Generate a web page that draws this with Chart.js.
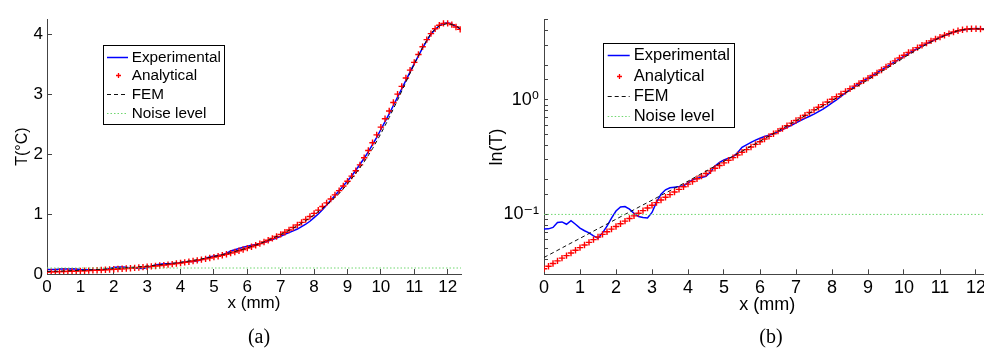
<html>
<head>
	<title>T profile</title>
	<style>
		html, body {
			margin: 0;
			padding: 0;
			width: 984px;
			height: 349px;
			overflow: hidden;
			background: #fff;
		}
		.panel { position: absolute; top: 0; }
		.cap {
			position: absolute;
			top: 323px;
			width: 100px;
			text-align: center;
			font: 20px "Liberation Serif", "Times New Roman", serif;
			line-height: 26px;
			color: #000;
		}
	</style>
</head>
<body>
	<div class="panel" style="left:0px"><canvas id="chartA" width="490" height="349"></canvas></div>
	<div class="panel" style="left:480px"><canvas id="chartB" width="530" height="349"></canvas></div>
	<div class="cap" style="left:209px">(a)</div>
	<div class="cap" style="left:721px">(b)</div>

	<script src="https://cdn.jsdelivr.net/npm/chart.js@4.4.1/dist/chart.umd.min.js"></script>
	<script>
		// position along the sample (mm)
		var xs = [0,0.125,0.25,0.375,0.5,0.625,0.75,0.875,1,1.125,1.25,1.375,1.5,1.625,1.75,1.875,
			2,2.125,2.25,2.375,2.5,2.625,2.75,2.875,3,3.125,3.25,3.375,3.5,3.625,3.75,3.875,
			4,4.125,4.25,4.375,4.5,4.625,4.75,4.875,5,5.125,5.25,5.375,5.5,5.625,5.75,5.875,
			6,6.125,6.25,6.375,6.5,6.625,6.75,6.875,7,7.125,7.25,7.375,7.5,7.625,7.75,7.875,
			8,8.125,8.25,8.375,8.5,8.625,8.75,8.875,9,9.125,9.25,9.375,9.5,9.625,9.75,9.875,
			10,10.125,10.25,10.375,10.5,10.625,10.75,10.875,11,11.125,11.25,11.375,11.5,11.625,11.75,11.875,
			12,12.125,12.25,12.375];

		var experimental = [0.0745,0.0748,0.077,0.085,0.086,0.082,0.088,0.082,
			0.076,0.072,0.069,0.065,0.062,0.069,0.079,0.093,
			0.107,0.116,0.117,0.111,0.102,0.096,0.094,0.093,
			0.104,0.128,0.150,0.164,0.171,0.173,0.175,0.178,
			0.188,0.201,0.207,0.210,0.215,0.235,0.265,0.285,
			0.299,0.310,0.318,0.345,0.385,0.405,0.425,0.445,
			0.462,0.478,0.492,0.505,0.525,0.550,0.575,0.600,
			0.630,0.660,0.690,0.720,0.750,0.790,0.830,0.880,
			0.940,1.000,1.070,1.150,1.230,1.310,1.390,1.470,
			1.550,1.635,1.730,1.830,1.930,2.040,2.160,2.280,
			2.410,2.540,2.670,2.810,2.950,3.090,3.230,3.370,
			3.510,3.640,3.770,3.890,4.000,4.080,4.140,4.180,
			4.190,4.170,4.130,4.090];

		var analytical = [0.0335,0.0353,0.0373,0.0393,0.0415,0.0437,0.0461,0.0486,
			0.0513,0.0541,0.0570,0.0602,0.0635,0.0669,0.0706,0.0744,
			0.0785,0.0828,0.0873,0.0921,0.0971,0.1024,0.1080,0.1139,
			0.1202,0.1267,0.1337,0.1410,0.1487,0.1568,0.1654,0.1744,
			0.1839,0.1940,0.2046,0.2158,0.2276,0.2400,0.2531,0.2670,
			0.2816,0.2970,0.3132,0.3303,0.3484,0.3674,0.3875,0.4087,
			0.4310,0.4551,0.4800,0.5062,0.5339,0.5631,0.5938,0.6263,
			0.6605,0.6966,0.7347,0.7748,0.8172,0.8618,0.9089,0.9586,
			1.011,1.066,1.125,1.186,1.251,1.319,1.391,1.467,
			1.548,1.632,1.722,1.820,1.94,2.06,2.19,2.32,
			2.45,2.59,2.72,2.86,3.00,3.13,3.27,3.40,
			3.53,3.66,3.79,3.91,4.01,4.09,4.15,4.18,
			4.18,4.16,4.12,4.08];

		var femX = [0,0.25,0.5,0.75,1,1.25,1.5,1.75,2,2.25,
			2.5,2.75,3,3.25,3.5,3.75,4,4.25,4.5,4.75,
			5,5.25,5.5,5.75,6,6.25,6.5,6.75,7,7.25,
			7.5,7.75,8,8.25,8.5,8.75,9,9.25,9.5,9.75,
			10,10.25,10.5,10.75,11,11.25,11.5,11.75,12,12.25,12.4];
		var fem = [0.0421,0.0463,0.0510,0.0562,0.0618,0.0681,0.0750,0.0824,0.0908,0.1000,
			0.1099,0.1211,0.1330,0.1466,0.1611,0.1774,0.1950,0.2158,0.2388,0.2642,
			0.2917,0.3221,0.3556,0.3936,0.4345,0.4819,0.5346,0.5929,0.6577,0.7278,
			0.8054,0.8913,0.9863,1.094,1.211,1.343,1.500,1.680,1.870,2.090,
			2.340,2.610,2.900,3.200,3.500,3.780,4.018,4.140,4.178,4.140,4.08];

		var noiseX = [0, 12.4];
		var noise = [0.1, 0.1];

		var xTicks = [0,1,2,3,4,5,6,7,8,9,10,11,12];
		var seriesNames = ['Experimental', 'Analytical', 'FEM', 'Noise level'];

		var FONT = '"Liberation Sans", Arial, "DejaVu Sans", sans-serif';

		function pts(xv, yv) {
			return xv.map(function (x, i) { return {x: x, y: yv[i]}; });
		}

		function makeDatasets() {
			return [{
				label: seriesNames[0], data: pts(xs, experimental),
				borderColor: '#0000ff', borderWidth: 1.5, pointRadius: 0, order: 3
			}, {
				label: seriesNames[1], data: pts(xs, analytical), showLine: false,
				pointStyle: 'cross', pointRadius: 3.2, pointBorderWidth: 1.4,
				pointBorderColor: '#ff0000', borderColor: '#ff0000', order: 2
			}, {
				label: seriesNames[2], data: pts(femX, fem),
				borderColor: '#111', borderWidth: 1, borderDash: [4, 3], pointRadius: 0, order: 1
			}, {
				label: seriesNames[3], data: pts(noiseX, noise),
				borderColor: 'rgb(110,215,110)', borderWidth: 1, borderDash: [1.5, 2], pointRadius: 0, order: 0
			}];
		}

		// boxed legend inside the plot, like the matlab one
		var boxLegend = {
			id: 'boxLegend',
			afterDatasetsDraw: function (chart, args, o) {
				var ctx = chart.ctx;
				ctx.save();
				ctx.fillStyle = '#fff';
				ctx.fillRect(o.x, o.y, o.w, o.h);
				ctx.strokeStyle = '#000';
				ctx.lineWidth = 1;
				ctx.strokeRect(o.x + 0.5, o.y + 0.5, o.w, o.h);
				ctx.font = o.size + 'px ' + FONT;
				ctx.textBaseline = 'middle';
				chart.data.datasets.forEach(function (ds, i) {
					var y = Math.round(o.y + o.first + i * o.row) + 0.5;
					var x0 = o.x + o.pad, x1 = x0 + o.sample;
					ctx.save();
					if (ds.showLine === false) {
						var cx = Math.round((x0 + x1) / 2) + 0.5, r = 2.5;
						ctx.strokeStyle = ds.pointBorderColor;
						ctx.lineWidth = 1.3;
						ctx.beginPath();
						ctx.moveTo(cx - r, y); ctx.lineTo(cx + r, y);
						ctx.moveTo(cx, y - r); ctx.lineTo(cx, y + r);
						ctx.stroke();
					} else {
						ctx.strokeStyle = ds.borderColor;
						ctx.lineWidth = ds.borderWidth;
						ctx.setLineDash(ds.borderDash || []);
						ctx.beginPath();
						ctx.moveTo(x0, y); ctx.lineTo(x1, y);
						ctx.stroke();
					}
					ctx.restore();
					ctx.fillStyle = '#000';
					ctx.fillText(ds.label, x1 + o.gap, y);
				});
				ctx.restore();
			}
		};

		function xScale(size, axisH, titlePad) {
			return {
				type: 'linear', min: 0, max: 12.4,
				afterFit: function (s) { s.height = axisH; },
				afterBuildTicks: function (s) { s.ticks = xTicks.map(function (v) { return {value: v}; }); },
				border: {display: true, color: '#444', width: 1},
				grid: {display: true, drawOnChartArea: false, drawTicks: true, tickLength: -5, color: '#444'},
				ticks: {color: '#000', font: {family: FONT, size: size}, padding: 8, maxRotation: 0, autoSkip: false},
				title: {display: true, text: 'x (mm)', color: '#000', font: {family: FONT, size: size}, padding: {top: 0, bottom: titlePad}}
			};
		}

		var chartA = new Chart(document.getElementById('chartA').getContext('2d'), {
			type: 'line',
			data: {datasets: makeDatasets()},
			options: {
				responsive: false, animation: false,
				layout: {padding: {top: 14, right: 29, left: 0, bottom: 0}},
				plugins: {
					legend: {display: false}, tooltip: {enabled: false},
					boxLegend: {x: 103, y: 45, w: 121, h: 79, first: 11.7, row: 18.7, pad: 4, sample: 21, gap: 3.7, size: 15.3}
				},
				scales: {
					x: xScale(17, 75, 35),
					y: {
						type: 'linear', min: 0, max: 4.25,
						afterFit: function (s) { s.width = 47; },
						border: {display: true, color: '#444', width: 1},
						grid: {display: true, drawOnChartArea: false, drawTicks: true, tickLength: -5, color: '#444'},
						ticks: {stepSize: 1, includeBounds: false, color: '#000', font: {family: FONT, size: 17}, padding: 9},
						title: {display: true, text: 'T(°C)', color: '#000', font: {family: FONT, size: 16}, padding: {top: 13, bottom: 0}}
					}
				}
			},
			plugins: [boxLegend]
		});

		var chartB = new Chart(document.getElementById('chartB').getContext('2d'), {
			type: 'line',
			data: {datasets: makeDatasets()},
			options: {
				responsive: false, animation: false,
				layout: {padding: {top: 14, right: 19.6, left: 0, bottom: 0}},
				plugins: {
					legend: {display: false}, tooltip: {enabled: false},
					boxLegend: {x: 123, y: 43, w: 131, h: 84, first: 12.3, row: 20.3, pad: 4.7, sample: 22, gap: 4, size: 16.5}
				},
				scales: {
					x: xScale(18, 74.7, 33),
					y: {
						type: 'logarithmic', min: 0.03, max: 5,
						afterFit: function (s) { s.width = 64; },
						border: {display: true, color: '#444', width: 1},
						grid: {display: true, drawOnChartArea: false, drawTicks: true, tickLength: -4, color: '#444'},
						ticks: {
							color: '#000', font: {family: FONT, size: 18}, padding: 9, autoSkip: false,
							callback: function (v) {
								if (Math.abs(v - 1) < 1e-9) return '10\u2070';
								if (Math.abs(v - 0.1) < 1e-9) return '10\u207B\u00B9';
								return '';
							}
						},
						title: {display: true, text: 'ln(T)', color: '#000', font: {family: FONT, size: 18}, padding: {top: 6, bottom: 0}}
					}
				}
			},
			plugins: [boxLegend]
		});
	</script>
</body>
</html>
